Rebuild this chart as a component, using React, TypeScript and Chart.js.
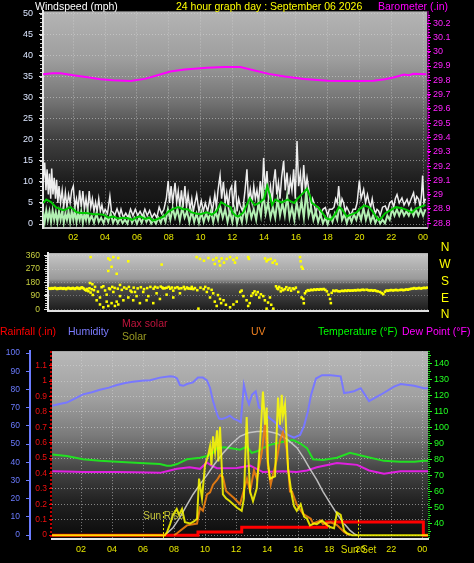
import React, { useEffect, useRef } from "react";
import { Chart, registerables } from "chart.js";
Chart.register(...registerables);

const FONT = "'Liberation Sans', Arial, Helvetica, sans-serif";
const GRID = "rgba(215,215,215,0.55)";

// ---------------- data ----------------
const HOUR_TICKS = [2, 4, 6, 8, 10, 12, 14, 16, 18, 20, 22, 24];
const WIND_TICKS = [0, 5, 10, 15, 20, 25, 30, 35, 40, 45, 50];
const BARO_TICKS = [28.8, 28.9, 29.0, 29.1, 29.2, 29.3, 29.4, 29.5, 29.6, 29.7, 29.8, 29.9, 30.0, 30.1, 30.2];
const DIR_TICKS = [0, 90, 180, 270, 360];
const COMPASS = ["N", "W", "S", "E", "N"];
const RAIN_TICKS = [0, 0.1, 0.2, 0.3, 0.4, 0.5, 0.6, 0.7, 0.8, 0.9, 1.0, 1.1];
const HUM_TICKS = [0, 10, 20, 30, 40, 50, 60, 70, 80, 90, 100];
const TEMP_TICKS = [40, 50, 60, 70, 80, 90, 100, 110, 120, 130, 140];
const SUNRISE_H = 7.29;
const SUNSET_H = 19.86;

const windGust: number[][] = [
  [0.1, 10], [0.2, 14.6], [0.28, 8], [0.35, 13], [0.43, 7], [0.5, 12], [0.58, 6], [0.64, 13.2], [0.72, 7], [0.8, 11],
  [0.88, 6], [0.95, 10.5], [1.03, 5], [1.1, 9], [1.2, 5], [1.3, 8], [1.4, 4], [1.5, 7.5], [1.6, 4], [1.7, 7],
  [1.8, 5], [1.9, 8], [2.0, 9], [2.1, 4], [2.2, 6], [2.3, 3.5], [2.4, 8], [2.5, 4], [2.6, 7.8], [2.7, 3.5],
  [2.8, 6], [2.9, 3], [3.0, 7.8], [3.1, 4], [3.2, 6], [3.3, 3], [3.4, 5.2], [3.5, 3], [3.6, 6], [3.7, 3],
  [3.8, 4.5], [3.9, 2.5], [4.0, 3.5], [4.15, 2.5], [4.3, 6.6], [4.4, 3], [4.5, 2.8], [4.6, 2], [4.75, 3.6], [4.9, 2],
  [5.0, 3.5], [5.15, 1.5], [5.3, 2.6], [5.45, 1.5], [5.6, 3.5], [5.75, 2], [5.9, 3.5], [6.05, 2], [6.2, 3], [6.35, 1.8],
  [6.5, 3.5], [6.65, 2], [6.8, 3.2], [6.95, 1.5], [7.1, 2.5], [7.25, 1.5], [7.4, 4], [7.55, 2.5], [7.7, 3.5], [7.85, 6],
  [7.97, 10.2], [8.05, 5], [8.15, 9], [8.25, 5], [8.4, 9.8], [8.5, 5], [8.6, 7.8], [8.7, 4], [8.8, 8], [8.9, 4],
  [9.02, 9], [9.12, 4], [9.22, 7], [9.34, 3.5], [9.45, 6], [9.55, 3], [9.76, 7], [9.9, 3], [10.05, 5.5], [10.18, 3],
  [10.3, 5], [10.45, 3], [10.6, 6], [10.75, 3], [10.9, 7], [11.0, 4], [11.1, 8], [11.23, 11.5], [11.33, 6], [11.44, 10],
  [11.55, 5], [11.65, 7.4], [11.75, 4], [11.85, 8], [11.96, 9], [12.05, 4], [12.19, 10.3], [12.3, 3], [12.4, 6], [12.5, 4.4],
  [12.65, 3], [12.8, 8], [12.92, 13], [13.02, 5], [13.13, 8.2], [13.25, 5], [13.35, 9], [13.45, 6], [13.55, 8], [13.65, 5],
  [13.76, 10.2], [13.87, 6], [13.97, 15.7], [14.07, 8], [14.18, 12.6], [14.28, 6], [14.4, 9], [14.5, 5], [14.6, 10], [14.7, 13],
  [14.8, 7], [14.9, 9.8], [15.0, 6], [15.1, 11], [15.23, 15], [15.33, 8], [15.44, 12.2], [15.55, 7], [15.65, 10.6], [15.75, 8],
  [15.86, 13], [15.96, 6], [16.07, 19.7], [16.17, 9], [16.28, 12], [16.38, 7], [16.49, 14], [16.6, 8], [16.7, 11], [16.84, 7.4],
  [16.95, 4], [17.05, 6], [17.12, 5.2], [17.25, 2.5], [17.35, 4], [17.43, 3.9], [17.55, 2], [17.7, 3.5], [17.85, 3.9], [18.0, 2],
  [18.1, 3.5], [18.27, 3.5], [18.4, 4], [18.5, 6], [18.6, 5], [18.69, 9], [18.8, 4], [18.9, 6], [19.0, 5], [19.1, 3],
  [19.2, 4], [19.32, 3.1], [19.45, 2], [19.6, 3.5], [19.74, 3.5], [19.85, 5], [19.99, 10.3], [20.1, 6], [20.26, 8.2], [20.38, 5],
  [20.5, 7], [20.58, 5.5], [20.7, 4], [20.8, 6], [20.89, 3.9], [21.0, 2.5], [21.1, 3.5], [21.2, 3.1], [21.3, 2], [21.45, 4],
  [21.62, 4.3], [21.75, 3], [21.9, 5], [22.04, 5.5], [22.15, 4], [22.25, 6], [22.36, 7], [22.5, 5], [22.67, 6.2], [22.8, 4.5],
  [22.99, 5.85], [23.1, 4.5], [23.25, 6], [23.4, 7.4], [23.5, 5], [23.6, 6.5], [23.72, 5.85], [23.82, 4], [23.9, 7], [23.97, 11.5],
  [24.05, 5], [24.15, 6],
];

const windSpeed: number[][] = [
  [0.1, 3], [0.2, 0.5], [0.3, 3.2], [0.4, 1], [0.5, 3], [0.6, 0.5], [0.7, 3.2], [0.8, 1], [0.9, 2.8], [1.0, 0.5],
  [1.1, 3], [1.2, 1], [1.3, 3], [1.4, 0.3], [1.5, 2.5], [1.6, 1], [1.7, 3], [1.8, 0.5], [1.9, 3], [2.0, 1],
  [2.1, 3.2], [2.2, 0.5], [2.3, 2.5], [2.4, 1], [2.5, 3], [2.6, 0.3], [2.7, 2.5], [2.8, 1], [2.9, 3], [3.0, 0.5],
  [3.15, 2], [3.3, 0.3], [3.45, 2.5], [3.6, 0.5], [3.75, 1.5], [3.9, 0.2], [4.05, 2], [4.2, 0.5], [4.35, 2.5], [4.5, 0.3],
  [4.65, 1.5], [4.8, 0.2], [4.95, 1.5], [5.1, 0.2], [5.25, 1], [5.4, 0.1], [5.55, 2], [5.7, 0.3], [5.85, 1.5], [6.0, 0.1],
  [6.15, 1.5], [6.3, 0.3], [6.45, 2], [6.6, 0.5], [6.75, 1.5], [6.9, 0.1], [7.05, 1], [7.2, 0.1], [7.35, 1.5], [7.5, 0.3],
  [7.65, 2], [7.8, 0.5], [7.95, 3.5], [8.1, 1], [8.25, 3.8], [8.4, 1.5], [8.55, 3.5], [8.7, 0.8], [8.85, 3.9], [9.0, 1.5],
  [9.15, 3], [9.3, 0.5], [9.45, 3], [9.6, 0.5], [9.75, 2.5], [9.9, 0.3], [10.05, 2.8], [10.2, 0.5], [10.35, 2.5], [10.5, 1],
  [10.65, 3], [10.8, 0.5], [10.95, 3], [11.1, 1], [11.25, 4], [11.4, 1.5], [11.55, 3.5], [11.7, 0.5], [11.85, 3], [12.0, 0.5],
  [12.15, 3.5], [12.3, 0.2], [12.45, 2.5], [12.6, 0.5], [12.75, 4], [12.9, 1], [13.05, 4.3], [13.2, 1.5], [13.35, 3.5], [13.5, 1],
  [13.65, 5], [13.8, 2], [13.95, 7.4], [14.1, 2.5], [14.25, 5], [14.4, 1.5], [14.55, 4], [14.7, 1.5], [14.85, 6], [15.0, 2],
  [15.15, 5], [15.3, 2], [15.45, 6.6], [15.6, 1.5], [15.75, 4], [15.9, 1], [16.05, 5], [16.2, 2], [16.35, 5.5], [16.5, 1.5],
  [16.65, 7.8], [16.8, 2], [16.95, 4], [17.1, 1], [17.25, 3], [17.4, 0.5], [17.55, 2.3], [17.7, 0.2], [17.85, 1.5], [18.0, 0],
  [18.15, 2], [18.3, 0.5], [18.45, 2.5], [18.6, 1], [18.75, 4.8], [18.9, 1], [19.05, 2.3], [19.2, 0.3], [19.35, 2], [19.5, 0.5],
  [19.65, 2.3], [19.8, 1], [19.95, 3], [20.1, 1], [20.25, 3.8], [20.4, 1], [20.55, 3], [20.7, 0.5], [20.85, 2], [21.0, 0.3],
  [21.15, 1.5], [21.3, 0.1], [21.45, 1], [21.6, 0.2], [21.75, 2], [21.9, 1], [22.05, 3.5], [22.2, 2], [22.35, 3.5], [22.5, 2],
  [22.65, 3.5], [22.8, 2], [22.95, 3], [23.1, 2], [23.25, 3.5], [23.4, 2], [23.55, 3.5], [23.7, 2], [23.85, 3.5], [24.0, 2],
  [24.15, 3.5],
];

const windAvg: number[][] = [
  [0.1, 5], [0.3, 5.8], [0.6, 5.2], [0.9, 4], [1.2, 3.5], [1.4, 3.3], [1.6, 3.6], [1.8, 4], [2.0, 3.5], [2.2, 2.8],
  [2.5, 2.6], [2.8, 2.6], [3.0, 2.5], [3.3, 2.3], [3.6, 2.3], [3.9, 2.2], [4.2, 1.5], [4.5, 1.8], [4.8, 1.3], [5.1, 1.5],
  [5.4, 1.4], [5.7, 1.0], [6.0, 1.6], [6.2, 1.8], [6.5, 1.2], [6.8, 1.5], [7.0, 0.8], [7.3, 1.2], [7.7, 1.8], [8.0, 3],
  [8.3, 3.6], [8.6, 4], [8.9, 3.5], [9.2, 3.5], [9.4, 2.8], [9.7, 2.5], [10.0, 2.3], [10.4, 2.8], [10.7, 2.2], [11.0, 3],
  [11.3, 5.2], [11.6, 4.5], [11.9, 4], [12.0, 2.8], [12.2, 2], [12.4, 1.8], [12.7, 2.8], [13.1, 6.1], [13.4, 4.5], [13.7, 5],
  [14.0, 6], [14.2, 9], [14.35, 7], [14.5, 4.5], [14.7, 5.8], [15.1, 5.1], [15.3, 5.5], [15.5, 5.8], [15.7, 5.3], [15.9, 5],
  [16.1, 6], [16.3, 6.8], [16.5, 7.5], [16.7, 8.4], [16.9, 6.5], [17.0, 5], [17.2, 4.5], [17.4, 3.9], [17.6, 3], [17.9, 1.4],
  [18.2, 1.0], [18.5, 2.5], [18.7, 4], [18.9, 3.5], [19.2, 1.8], [19.5, 2.3], [19.8, 2.7], [20.0, 3.5], [20.3, 4.4], [20.6, 4],
  [20.8, 3.1], [21.0, 2], [21.2, 1.0], [21.4, 1.5], [21.6, 2.5], [21.9, 3.2], [22.3, 4], [22.6, 3.8], [22.8, 3.6], [23.0, 3.3],
  [23.3, 2.7], [23.5, 3.5], [23.7, 3.9], [24.0, 4.3], [24.15, 4.5],
];

const barometer: number[][] = [
  [0.1, 29.842], [0.7, 29.85], [1.2, 29.85], [2, 29.835], [3, 29.82], [3.7, 29.808], [4.5, 29.8], [5.6, 29.796],
  [6.5, 29.81], [7.3, 29.835], [8.1, 29.862], [9, 29.876], [10.4, 29.888], [11.5, 29.893], [12.5, 29.893],
  [13.4, 29.868], [14.3, 29.845], [15.3, 29.826], [16.5, 29.81], [18, 29.797], [19, 29.795], [20, 29.795],
  [20.9, 29.797], [21.6, 29.808], [22.2, 29.822], [22.8, 29.84], [23.1, 29.835], [23.4, 29.846], [24.2, 29.842],
];

const dirBand: number[][] = [
  [0.5, 140], [0.57, 137], [0.64, 142], [0.71, 138], [0.78, 141], [0.85, 144], [0.92, 139], [0.99, 136], [1.06, 141], [1.13, 138],
  [1.2, 143], [1.27, 140], [1.34, 137], [1.41, 142], [1.48, 139], [1.55, 135], [1.62, 140], [1.69, 144], [1.76, 141], [1.83, 137],
  [1.9, 140], [1.97, 143], [2.04, 139], [2.11, 136], [2.18, 141], [2.25, 145], [2.32, 140], [2.39, 137], [2.46, 142], [2.53, 147],
  [2.6, 143], [2.67, 138], [2.74, 131], [2.81, 126], [2.88, 136], [2.95, 121], [3.02, 141], [3.05, 176], [3.09, 112], [3.16, 134],
  [3.2, 168], [3.23, 96], [3.3, 128], [3.37, 150],
];
const dirLow: number[][] = [
  [3.47, 60], [3.55, 118], [3.68, 32], [3.68, 79], [3.78, 148], [3.89, 13], [3.89, 154], [4.0, 126], [4.1, 51], [4.1, 98],
  [4.2, 22], [4.25, 140], [4.31, 135], [4.41, 41], [4.45, 150], [4.52, 116], [4.6, 143], [4.62, 22], [4.73, 51], [4.8, 138],
  [4.83, 32], [4.94, 88], [4.94, 163], [5.05, 130], [5.15, 60], [5.2, 146], [5.35, 138], [5.46, 79], [5.5, 150], [5.6, 125],
  [5.67, 116], [5.77, 60], [5.8, 145], [5.88, 116], [5.98, 88], [6.05, 140], [6.19, 41], [6.25, 148], [6.4, 116], [6.45, 135],
  [6.61, 60], [6.65, 142], [6.72, 88], [6.85, 150], [7.03, 41], [7.05, 138], [7.14, 150], [7.24, 107], [7.3, 145], [7.45, 69],
  [7.5, 152], [7.6, 146], [7.65, 140], [7.75, 141], [7.87, 98], [7.87, 144], [8.0, 150], [8.1, 138], [8.2, 146], [8.29, 79],
  [8.29, 125], [8.4, 143], [8.55, 148], [8.65, 139], [8.71, 107], [8.8, 141], [8.95, 150], [9.02, 135], [9.15, 146], [9.2, 140],
  [9.3, 139], [9.4, 137], [9.45, 150], [9.55, 135], [9.65, 142], [9.8, 128],
];
const dirHigh: number[][] = [
  [3.09, 350], [4.2, 341], [4.31, 332], [4.52, 350], [4.83, 344], [4.41, 285], [4.2, 257], [4.73, 238], [5.46, 322], [7.56, 300],
  [9.76, 350], [9.97, 338], [10.22, 326], [10.5, 344], [10.8, 332], [10.9, 304], [11.0, 344], [11.18, 322], [11.33, 341], [11.48, 313],
  [11.65, 338], [11.86, 350], [12.07, 332], [12.17, 313], [12.28, 344], [11.23, 294], [13.0, 350], [13.05, 338], [14.06, 341], [14.16, 322],
  [14.26, 332], [14.41, 338], [14.54, 313], [14.68, 326], [14.79, 304], [16.26, 350], [16.3, 322], [16.36, 285], [16.43, 272],
];
const dirMid: number[][] = [
  [9.87, 4], [10.0, 145], [10.2, 135], [10.3, 150], [10.4, 116], [10.5, 140], [10.6, 79], [10.7, 130], [10.8, 107], [10.9, 51],
  [11.02, 22], [11.1, 95], [11.23, 69], [11.3, 41], [11.45, 60], [11.6, 30], [11.86, 13], [12.07, 32], [12.28, 51], [12.5, 116],
  [12.59, 125], [12.7, 88], [12.9, 60], [13.0, 22], [13.1, 41], [13.2, 90], [13.3, 107], [13.4, 120], [13.5, 98], [13.6, 115],
  [13.7, 79], [13.8, 100], [13.95, 88], [14.05, 60], [14.16, 4], [14.25, 45], [14.37, 79], [14.45, 30], [14.58, 4], [14.75, 154],
  [14.82, 140], [14.89, 135], [14.95, 150], [15.05, 120], [15.1, 140], [15.2, 128], [15.3, 135], [15.4, 148], [15.5, 130], [15.6, 142],
  [15.7, 125], [15.8, 140], [15.9, 135], [16.0, 145], [16.15, 116], [16.36, 79], [16.47, 69], [16.5, 40],
];
const dirLate: number[][] = [
  [16.57, 107], [16.65, 120], [16.75, 128], [16.85, 125], [16.95, 131], [17.05, 128], [17.15, 133], [17.25, 130], [17.35, 134], [17.45, 131],
  [17.55, 135], [17.65, 133], [17.75, 136], [17.85, 130], [17.95, 120], [18.05, 98], [18.15, 69], [18.2, 41], [18.25, 110], [18.35, 125],
  [18.45, 122], [18.55, 126], [18.65, 121], [18.77, 120], [18.9, 124], [19.0, 122], [19.1, 126], [19.2, 123], [19.3, 127], [19.4, 124],
  [19.5, 126], [19.6, 125], [19.7, 128], [19.8, 126], [19.9, 130], [20.0, 127], [20.1, 129], [20.2, 131], [20.3, 129], [20.45, 131],
  [20.55, 128], [20.65, 126], [20.75, 128], [20.85, 124], [20.95, 127], [21.05, 123], [21.15, 120], [21.3, 116], [21.4, 108], [21.5, 101],
  [21.6, 118], [21.7, 126], [21.8, 124], [21.9, 127], [22.0, 129], [22.1, 126], [22.2, 128], [22.3, 130], [22.4, 127], [22.55, 129],
  [22.65, 131], [22.75, 128], [22.85, 130], [22.95, 133], [23.05, 131], [23.15, 135], [23.25, 137], [23.35, 139], [23.45, 142], [23.55, 138],
  [23.65, 140], [23.75, 143], [23.85, 139], [23.95, 141], [24.05, 144], [24.15, 142], [24.25, 145],
];

const humidity: number[][] = [
  [0.15, 71], [0.6, 72], [1.08, 72.8], [1.6, 75], [2.13, 77.3], [2.7, 78.5], [3.22, 79.8], [3.8, 81], [4.32, 82.4], [4.85, 83.5],
  [5.35, 84.2], [5.9, 84.8], [6.45, 85.1], [7.09, 86.5], [7.74, 87.2], [8.0, 87], [8.19, 86], [8.38, 82.4], [8.6, 82], [8.83, 83],
  [9.22, 83.9], [9.54, 86.5], [9.86, 86.5], [10.12, 85], [10.32, 80.8], [10.51, 73.6], [10.77, 66.5], [10.9, 64], [11.09, 63.8], [11.35, 64.5],
  [11.6, 65.6], [11.86, 63.8], [12.1, 63], [12.3, 62], [12.5, 82.4], [12.7, 75], [12.83, 71.8], [13.02, 77.1], [13.26, 78.9], [13.47, 70],
  [13.73, 69], [14.06, 65], [14.5, 62], [14.96, 58], [15.34, 55], [15.73, 53.5], [16.12, 55], [16.38, 60], [16.63, 68], [16.83, 77],
  [17.15, 86], [17.54, 87.8], [18.1, 87.8], [18.74, 87.2], [18.96, 78], [19.3, 78.5], [19.6, 79], [20.03, 80.7], [20.57, 73.6], [21.32, 77.1],
  [22.18, 81.6], [22.61, 83], [23.47, 82], [24.11, 80.7], [24.4, 80.7],
];
const temperature: number[][] = [
  [0.15, 83], [1.08, 82], [2.13, 80], [3.22, 79], [4.32, 78.4], [5.8, 77.6], [7.09, 77], [7.54, 76], [7.8, 76], [8.19, 77],
  [8.83, 80], [9.67, 81], [10.12, 82], [10.5, 84], [10.77, 87], [11.2, 87.5], [11.6, 87], [12.25, 86], [12.7, 88], [13.0, 84],
  [13.35, 85], [13.73, 87], [14.18, 89], [15.02, 91], [15.67, 92], [16.12, 90], [16.57, 87], [16.96, 80], [17.6, 79.5], [18.5, 81],
  [19.34, 84], [20.18, 82], [21.53, 79], [22.57, 78.4], [23.5, 78.5], [24.11, 79], [24.4, 79],
];
const dewPoint: number[][] = [
  [0.15, 72.5], [1.0, 72.3], [2.13, 72], [3.2, 72], [4.32, 72], [5.5, 71.8], [7.09, 71.5], [7.54, 72.5], [8.19, 74], [9.0, 75],
  [9.67, 74], [10.12, 78], [10.4, 76], [10.77, 74.4], [12.06, 74.5], [12.9, 76], [13.73, 72], [15.02, 72.5], [15.9, 72], [16.57, 73],
  [17.2, 75], [18.5, 77.6], [19.2, 77], [19.8, 76.5], [20.57, 73], [21.53, 71], [22.6, 72.5], [24.11, 72.5], [24.4, 72.5],
];
const rainfall: number[][] = [
  [0.13, 0], [9.54, 0], [9.54, 0.02], [12.36, 0.02], [12.36, 0.052], [17.84, 0.052], [17.84, 0.085], [24.07, 0.085], [24.07, 0], [24.4, 0],
];
const maxSolar: number[][] = [
  [7.41, 0], [7.93, 40], [8.38, 96], [8.8, 160], [9.22, 221], [9.7, 280], [10.12, 326], [10.6, 385], [11.15, 445], [11.7, 495],
  [12.25, 537], [12.8, 556], [13.35, 563], [13.99, 565], [14.64, 552], [15.3, 520], [15.93, 474], [16.35, 420], [16.76, 360], [17.2, 300],
  [17.6, 237], [18.05, 175], [18.5, 116], [18.9, 68], [19.34, 26], [19.6, 8], [19.79, 0],
];
const solar: number[][] = [
  [0.13, 0], [7.41, 0], [7.54, 15], [7.74, 60], [7.93, 110], [8.17, 142], [8.32, 110], [8.51, 142], [8.7, 70], [9.03, 63],
  [9.28, 75], [9.48, 89], [9.61, 307], [9.8, 200], [9.99, 378], [10.19, 431], [10.32, 484], [10.41, 380], [10.51, 537], [10.64, 450],
  [10.77, 570], [10.86, 400], [10.96, 589], [11.15, 221], [11.35, 200], [11.6, 184], [12.06, 149], [12.36, 132], [12.5, 200], [12.68, 642],
  [12.77, 450], [12.9, 237], [13.09, 184], [13.33, 254], [13.41, 350], [13.54, 500], [13.73, 780], [13.86, 600], [13.97, 693], [14.05, 400],
  [14.18, 307], [14.51, 320], [14.7, 747], [14.83, 600], [14.94, 763], [15.02, 650], [15.15, 711], [15.35, 360], [15.58, 221], [15.73, 158],
  [15.91, 132], [16.16, 168], [16.38, 100], [16.57, 89], [16.76, 53], [17.02, 63], [17.2, 60], [17.54, 79], [17.86, 55], [18.05, 44],
  [18.31, 37], [18.5, 123], [18.74, 110], [18.96, 25], [19.15, 10], [19.47, 0], [24.4, 0],
];
const uv: number[][] = [
  [8.0, 0], [8.19, 10], [8.83, 53], [9.48, 63], [9.67, 149], [9.86, 132], [10.12, 221], [10.32, 232], [10.51, 274], [10.77, 300],
  [10.96, 326], [11.15, 316], [11.35, 240], [11.6, 221], [11.86, 202], [12.25, 168], [12.7, 307], [12.9, 237], [13.15, 352], [13.33, 307],
  [13.65, 447], [13.86, 605], [14.05, 378], [14.23, 274], [14.38, 330], [14.62, 411], [14.83, 516], [15.02, 560], [15.26, 465], [15.47, 237],
  [15.6, 237], [15.9, 168], [16.31, 116], [16.81, 89], [16.96, 63], [17.45, 79], [17.6, 60], [18.1, 70], [18.5, 55], [18.96, 17],
  [19.28, 0],
];

// ---------------- helpers ----------------
const xy = (arr: number[][]) => arr.map(([x, y]) => ({ x, y }));
const fixW = (w: number) => (s: any) => { s.width = w; };
const fixH = (h: number) => (s: any) => { s.height = h; };
const setTicks = (vals: number[]) => (s: any) => { s.ticks = vals.map((v) => ({ value: v })); };
const hourLabel = (v: any) => (v === 24 ? "00" : v < 10 ? "0" + v : String(v));
const dec1 = (v: any) => String(+Number(v).toFixed(1));
const font = (size: number) => ({ family: FONT, size });
const steps = (from: number, to: number, step: number) => {
  const out: number[] = [];
  for (let v = from; v <= to + 1e-9; v += step) out.push(v);
  return out;
};

function dottedV(ctx: any, x: number, y1: number, y2: number, color: string, width: number, dash: number[]) {
  ctx.save();
  ctx.strokeStyle = color;
  ctx.lineWidth = width;
  ctx.setLineDash(dash);
  ctx.beginPath();
  ctx.moveTo(x, y1);
  ctx.lineTo(x, y2);
  ctx.stroke();
  ctx.restore();
}
function minorTicks(chart: any, id: string, vals: number[], side: string, len: number, color: string) {
  const s = chart.scales[id];
  const a = chart.chartArea;
  const ctx = chart.ctx;
  ctx.save();
  ctx.strokeStyle = color;
  ctx.lineWidth = 1;
  ctx.beginPath();
  vals.forEach((v) => {
    const y = Math.round(s.getPixelForValue(v)) + 0.5;
    const x0 = side === "left" ? a.left - len - 1 : a.right + 1;
    ctx.moveTo(x0, y);
    ctx.lineTo(x0 + len, y);
  });
  ctx.stroke();
  ctx.restore();
}
function decor(stops: any[], after?: (c: any) => void) {
  return {
    id: "decor",
    beforeDraw(chart: any) {
      const { ctx, chartArea: a } = chart;
      const g = ctx.createLinearGradient(0, a.top, 0, a.bottom);
      stops.forEach(([p, c]: any) => g.addColorStop(p, c));
      ctx.save();
      ctx.fillStyle = g;
      ctx.fillRect(a.left, a.top, a.right - a.left, a.bottom - a.top);
      ctx.restore();
    },
    afterDraw(chart: any) {
      if (after) after(chart);
    },
  };
}
const baseOpts = {
  responsive: false,
  animation: false,
  devicePixelRatio: 1,
  events: [],
  plugins: { legend: { display: false }, tooltip: { enabled: false } },
  elements: { point: { radius: 0 }, line: { tension: 0 } },
};

// ---------------- chart configs ----------------
function windConfig(): any {
  return {
    type: "line",
    data: {
      datasets: [
        { data: xy(barometer), yAxisID: "yb", borderColor: "#ff00ff", borderWidth: 2 },
        { data: xy(windAvg), yAxisID: "y", borderColor: "#00c800", borderWidth: 2 },
        { data: xy(windSpeed), yAxisID: "y", borderColor: "#b2eeb2", borderWidth: 2 },
        { data: xy(windGust), yAxisID: "y", borderColor: "rgba(248,248,248,0.95)", borderWidth: 1.5 },
      ],
    },
    options: {
      ...baseOpts,
      layout: { padding: { top: 10, left: 0, right: 0, bottom: 0 } },
      scales: {
        x: {
          type: "linear", min: 0.094, max: 24.245,
          afterFit: fixH(20), afterBuildTicks: setTicks(HOUR_TICKS),
          ticks: { color: "#e6e600", font: font(9), padding: 4, autoSkip: false, maxRotation: 0, callback: hourLabel },
          grid: { color: GRID, drawTicks: false },
          border: { color: "#c8c8c8", width: 2, dash: [1, 2] },
        },
        y: {
          type: "linear", position: "left", min: -0.95, max: 50.5,
          afterFit: fixW(43), afterBuildTicks: setTicks(WIND_TICKS),
          ticks: { color: "#dce6ff", font: font(9), padding: 6, autoSkip: false },
          grid: { color: GRID, tickLength: 4, tickColor: "#e0e0e0" },
          border: { color: "#e8e8e8", width: 2, dash: [1, 2] },
        },
        yb: {
          type: "linear", position: "right", min: 28.767, max: 30.282,
          afterFit: fixW(47), afterBuildTicks: setTicks(BARO_TICKS),
          ticks: { color: "#ff22ff", font: font(9), padding: 2, autoSkip: false, callback: dec1 },
          grid: { drawOnChartArea: false, tickLength: 4, tickColor: "#ff00ff" },
          border: { display: false },
        },
      },
    },
    plugins: [
      decor(
        [[0, "#b4b4b4"], [0.22, "#9e9e9e"], [0.42, "#727272"], [0.58, "#424242"], [0.78, "#1e1e1e"], [1, "#0a0a0a"]],
        (chart) => {
          const a = chart.chartArea;
          minorTicks(chart, "y", steps(0, 50, 1), "left", 2, "#cfcfcf");
          dottedV(chart.ctx, a.right + 1, a.top, a.bottom, "#ff00ff", 1.5, [1, 1]);
          minorTicks(chart, "yb", steps(28.8, 30.26, 0.02), "right", 2, "#ff00ff");
        }
      ),
    ],
  };
}

function dirConfig(): any {
  return {
    type: "scatter",
    data: {
      datasets: [
        {
          data: xy([...dirBand, ...dirLow, ...dirHigh, ...dirMid, ...dirLate]),
          backgroundColor: "#ffff00", borderColor: "#ffff00", borderWidth: 0,
          pointStyle: "rect", pointRadius: 1.8,
        },
      ],
    },
    options: {
      ...baseOpts,
      elements: { point: { radius: 1.8 } },
      layout: { padding: { top: 3, left: 0, right: 46, bottom: 0 } },
      scales: {
        x: {
          type: "linear", min: 0.41, max: 24.31, afterFit: fixH(4),
          ticks: { display: false },
          grid: { color: "rgba(0,0,0,0)", drawTicks: false },
          border: { color: "#e0e0e0", width: 2 },
        },
        y: {
          type: "linear", position: "left", min: -11.2, max: 376.9,
          afterFit: fixW(48), afterBuildTicks: setTicks(DIR_TICKS),
          ticks: { color: "#c8d040", font: font(8.5), padding: 4, autoSkip: false },
          grid: { color: "rgba(220,220,220,0.35)", tickLength: 4, tickColor: "#e0e0e0" },
          border: { color: "#e8e8e8", width: 2, dash: [1, 2] },
        },
      },
    },
    plugins: [
      decor(
        [[0, "#c6c6c6"], [0.45, "#9a9a9a"], [0.55, "#525252"], [1, "#1c1c1c"]],
        (chart) => minorTicks(chart, "y", steps(0, 360, 15), "left", 2, "#d8d8d8")
      ),
    ],
  };
}

function weatherConfig(): any {
  return {
    type: "line",
    data: {
      datasets: [
        { data: xy(solar), yAxisID: "ys", borderColor: "rgba(255,255,0,0.85)", borderWidth: 2 },
        { data: xy(uv), yAxisID: "ys", borderColor: "rgba(240,128,16,0.9)", borderWidth: 2 },
        { data: xy(rainfall), yAxisID: "y", borderColor: "#ff0000", borderWidth: 3 },
        { data: xy(maxSolar), yAxisID: "ys", borderColor: "rgba(205,205,205,0.9)", borderWidth: 1.5 },
        { data: xy(temperature), yAxisID: "yt", borderColor: "#22e022", borderWidth: 2 },
        { data: xy(dewPoint), yAxisID: "yt", borderColor: "#e020e0", borderWidth: 2 },
        { data: xy(humidity), yAxisID: "yh", borderColor: "#7878ff", borderWidth: 2 },
      ],
    },
    options: {
      ...baseOpts,
      layout: { padding: { top: 5, left: 0, right: 0, bottom: 0 } },
      scales: {
        x: {
          type: "linear", min: 0.129, max: 24.37,
          afterFit: fixH(24), afterBuildTicks: setTicks(HOUR_TICKS),
          ticks: { color: "#e6e600", font: font(9), padding: 5, autoSkip: false, maxRotation: 0, callback: hourLabel },
          grid: { color: GRID, drawTicks: false },
          border: { color: "#e8e8e8", width: 2, dash: [1, 2] },
        },
        yh: {
          type: "linear", position: "left", weight: 1, min: -2.13, max: 101.06,
          afterFit: fixW(30), afterBuildTicks: setTicks(HUM_TICKS),
          ticks: { color: "#6b7bff", font: font(8.5), padding: 6, autoSkip: false },
          grid: { drawOnChartArea: false, tickLength: 4, tickColor: "#6b7bff" },
          border: { color: "#6b7bff", width: 2 },
        },
        y: {
          type: "linear", position: "left", weight: 0, min: -0.025, max: 1.195,
          afterFit: fixW(22), afterBuildTicks: setTicks(RAIN_TICKS),
          ticks: { color: "#f01010", font: font(8.5), padding: 2, autoSkip: false, callback: dec1 },
          grid: { color: GRID, tickLength: 3, tickColor: "#ff0000" },
          border: { display: false, dash: [1, 2] },
        },
        yt: {
          type: "linear", position: "right", min: 30.1, max: 147.7,
          afterFit: fixW(46), afterBuildTicks: setTicks(TEMP_TICKS),
          ticks: { color: "#22ff22", font: font(9), padding: 2, autoSkip: false },
          grid: { drawOnChartArea: false, tickLength: 4, tickColor: "#22ff22" },
          border: { display: false },
        },
        ys: { type: "linear", display: false, min: -21, max: 1000 },
      },
    },
    plugins: [
      decor(
        [[0, "#b8b8b8"], [0.25, "#a0a0a0"], [0.45, "#7a7a7a"], [0.62, "#484848"], [0.8, "#222222"], [1, "#0a0a0a"]],
        (chart) => {
          const a = chart.chartArea;
          const ctx = chart.ctx;
          const xs = chart.scales.x;
          const rain = chart.scales.y;
          dottedV(ctx, a.left - 1, a.top, a.bottom, "#ff0000", 1.5, [2, 2]);
          dottedV(ctx, a.right + 1, a.top, a.bottom, "#22ff22", 1.5, [1, 1]);
          minorTicks(chart, "yt", steps(35, 145, 5), "right", 2, "#22ff22");
          const xr = Math.round(xs.getPixelForValue(SUNRISE_H)) + 0.5;
          const xsn = Math.round(xs.getPixelForValue(SUNSET_H)) + 0.5;
          dottedV(ctx, xr, rain.getPixelForValue(0.15), a.bottom, "#e8e800", 1, [2, 2]);
          dottedV(ctx, xsn, rain.getPixelForValue(0.1), a.bottom, "#e8e800", 1, [2, 2]);
          ctx.save();
          ctx.font = "10px " + FONT;
          ctx.textAlign = "center";
          ctx.textBaseline = "middle";
          ctx.fillStyle = "#c8c83c";
          ctx.fillText("Sun Rise", xr, rain.getPixelForValue(0.12));
          ctx.fillStyle = "#d8d800";
          ctx.fillText("Sun Set", xsn, a.bottom + 11);
          ctx.restore();
        }
      ),
    ],
  };
}

// ---------------- components ----------------
function ChartCanvas({ top, height, make }: { top: number; height: number; make: () => any }) {
  const ref = useRef<HTMLCanvasElement>(null);
  useEffect(() => {
    const chart = new Chart(ref.current as HTMLCanvasElement, make());
    return () => chart.destroy();
  }, [make]);
  return (
    <canvas
      ref={ref}
      width={474}
      height={height}
      style={{ position: "absolute", left: 0, top, width: 474, height, display: "block" }}
    />
  );
}

function Txt({ x, y, color, size = 10.5, w, children }: any) {
  return (
    <div
      style={{
        position: "absolute", left: x, top: y, color, fontSize: size, fontFamily: FONT,
        lineHeight: "12px", whiteSpace: "nowrap", width: w, textAlign: w ? "center" : "left",
      }}
    >
      {children}
    </div>
  );
}

const COMPASS_TOPS = [241, 258, 275, 292, 308];

export default function App() {
  return (
    <div style={{ position: "fixed", left: 0, top: 0, width: 474, height: 563, background: "#000", overflow: "hidden" }}>
      <ChartCanvas top={0} height={248} make={windConfig} />
      <ChartCanvas top={244} height={76} make={dirConfig} />
      <ChartCanvas top={340} height={223} make={weatherConfig} />

      <Txt x={35} y={0} color="#ffffff">Windspeed (mph)</Txt>
      <Txt x={176} y={0} color="#ffff00">24 hour graph day : September 06 2026</Txt>
      <Txt x={378} y={0} color="#ff00ff">Barometer (.in)</Txt>

      {COMPASS.map((c, i) => (
        <Txt key={i} x={435} y={COMPASS_TOPS[i]} w={20} size={12} color="#ffff00">{c}</Txt>
      ))}

      <Txt x={0} y={325} color="#ff0000">Rainfall (.in)</Txt>
      <Txt x={68} y={325} color="#7b7bff">Humidity</Txt>
      <Txt x={122} y={317} color="#c0143c">Max solar</Txt>
      <Txt x={122} y={330} color="#9a9a22">Solar</Txt>
      <Txt x={251} y={325} color="#f08020">UV</Txt>
      <Txt x={318} y={325} color="#00ff00">Temperature (°F)</Txt>
      <Txt x={402} y={325} color="#ff00ff">Dew Point (°F)</Txt>
    </div>
  );
}
